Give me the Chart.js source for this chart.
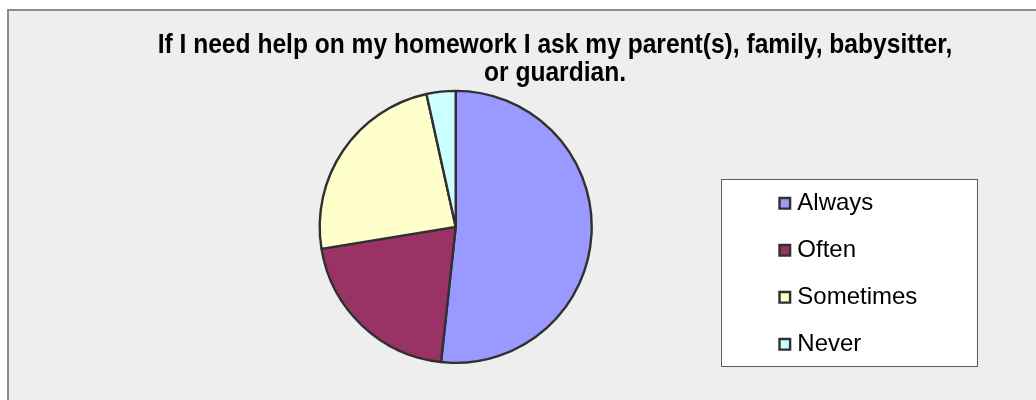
<!DOCTYPE html>
<html>
<head>
<meta charset="utf-8">
<script src="https://cdn.jsdelivr.net/npm/chart.js@4"></script>
<style>
html, body { margin: 0; padding: 0; background: #ffffff; overflow: hidden; width: 1036px; height: 400px; }
#frame { position: absolute; left: 7px; top: 9px; width: 1092px; height: 400px;
         border-top: 2px solid #8c8c8c; border-left: 2px solid #8c8c8c; background: #eeeeee; }
canvas { display: block; }
</style>
</head>
<body>
<div id="frame"><canvas id="c" width="1092" height="389"></canvas></div>
<script>
// ---- data ----
const titleLines = ['If I need help on my homework I ask my parent(s), family, babysitter,', 'or guardian.'];
const categories = ['Always', 'Often', 'Sometimes', 'Never'];
const responses = [15, 6, 7, 1];
const sliceColors = ['#9999FF', '#993366', '#FFFFCC', '#CCFFFF'];

// ---- layout settings ----
const LEGEND_SPACE = 198.6;                       // width reserved at right for the legend
const legendFrame = { x: 711.7, y: 168.3, w: 256, h: 187.4 };   // white legend panel
const legendItemsBox = { left: 752.3, top: 157.3, width: 220, height: 228 };
const TITLE_SCALE_X = 0.878;                      // condensed title face

const legendLayout = {
  id: 'legendLayout',
  beforeLayout(chart) {
    const lg = chart.legend;
    if (lg && !lg._fitPatched) {
      const fit = lg.fit;
      lg.fit = function () { fit.call(this); if (this.options.display) this.width = LEGEND_SPACE; };
      lg._fitPatched = true;
    }
    const tb = chart.titleBlock;
    if (tb && !tb._drawPatched) {
      const draw = tb.draw;
      tb.draw = function () {
        const ctx = this.ctx;
        const cx = (this.left + this.right) / 2;
        ctx.save();
        ctx.translate(cx, 0);
        ctx.scale(TITLE_SCALE_X, 1);
        ctx.translate(-cx, 0);
        draw.call(this);
        ctx.restore();
      };
      tb._drawPatched = true;
    }
  },
  afterLayout(chart) {
    const lg = chart.legend;
    if (!lg) return;
    lg.left = legendItemsBox.left;
    lg.top = legendItemsBox.top;
    lg.width = legendItemsBox.width;
    lg.height = legendItemsBox.height;
    lg.right = lg.left + lg.width;
    lg.bottom = lg.top + lg.height;
  },
  beforeDraw(chart) {
    const ctx = chart.ctx;
    ctx.save();
    ctx.fillStyle = '#ffffff';
    ctx.fillRect(legendFrame.x, legendFrame.y, legendFrame.w, legendFrame.h);
    ctx.strokeStyle = '#5a5a5a';
    ctx.lineWidth = 1;
    ctx.strokeRect(Math.round(legendFrame.x) + 0.5, Math.round(legendFrame.y) + 0.5,
                   Math.round(legendFrame.w), Math.round(legendFrame.h));
    ctx.restore();
  }
};

new Chart(document.getElementById('c'), {
  type: 'pie',
  data: {
    labels: categories,
    datasets: [{
      data: responses,
      backgroundColor: sliceColors,
      borderColor: '#303030',
      borderWidth: 2.4,
      radius: 136,
      clip: false
    }]
  },
  options: {
    responsive: false,
    animation: false,
    events: [],
    layout: { padding: { left: 0, right: 0, top: 0, bottom: 33.7 } },
    plugins: {
      title: {
        display: true,
        text: titleLines,
        color: '#000000',
        font: { family: 'Liberation Sans', size: 28, weight: 'bold', lineHeight: 1.014 },
        padding: { top: 19.6, bottom: 0 }
      },
      legend: {
        display: true,
        position: 'right',
        align: 'start',
        labels: {
          usePointStyle: true,
          pointStyle: 'rect',
          boxWidth: 1,
          boxHeight: 10.6,
          padding: 23,
          color: '#000000',
          font: { family: 'Liberation Sans', size: 24 }
        }
      },
      tooltip: { enabled: false }
    }
  },
  plugins: [legendLayout]
});
</script>
</body>
</html>
